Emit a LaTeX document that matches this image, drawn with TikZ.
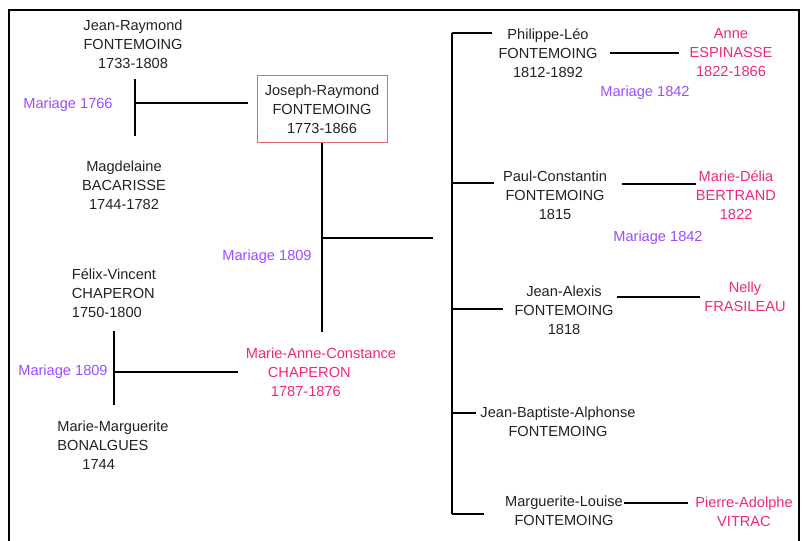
\documentclass[tikz,border=0pt]{standalone}
\usepackage{fontspec}
\setmainfont{Liberation Sans}
\usetikzlibrary{positioning}
\definecolor{texte}{HTML}{222222}
\definecolor{mariage}{HTML}{9B4DFF}
\definecolor{epouse}{HTML}{F0287A}
\definecolor{cadre}{HTML}{E8686A}

\begin{document}
\begin{tikzpicture}[x=1pt, y=-1pt,
    every node/.style={align=center, inner sep=0pt, text=texte, font=\fontsize{14.6}{19}\selectfont},
    lien/.style={line width=1.2pt},
    noce/.style={text=mariage},
    conjoint/.style={text=epouse}]

    \useasboundingbox (0,0) rectangle (809,541);

    % Frame
    \draw[line width=1.6pt] (9,541) -- (9,10) -- (799,10) -- (799,541);

    % Nodes: parents
    \node at (133,44) (jeanraymond) {Jean-Raymond\\FONTEMOING\\1733-1808};
    \node at (124,185) (magdelaine) {Magdelaine\\BACARISSE\\1744-1782};
    \node at (68,105) [noce] (noce1766) {Mariage 1766};
    \node at (322,109) (joseph) [draw=cadre, line width=1pt, minimum width=130pt, minimum height=67pt] {Joseph-Raymond\\FONTEMOING\\1773-1866};
    \node at (267,257) [noce] (noce1809) {Mariage 1809};
    \node at (114,293) [align=left] (felix) {Félix-Vincent\\CHAPERON\\1750-1800};
    \node at (113,445) [align=left] (marguerite) {Marie-Marguerite\\BONALGUES\\\hspace*{25pt}1744};
    \node at (63,372) [noce] (noce1809b) {Mariage 1809};
    \node at (321,372) [conjoint, align=left] (constance) {Marie-Anne-Constance\\\hspace*{22pt}CHAPERON\\\hspace*{25pt}1787-1876};

    % Nodes: enfants
    \node at (548,53) (philippe) {Philippe-Léo\\FONTEMOING\\1812-1892};
    \node at (731,53) [conjoint] (anne) {Anne\\ESPINASSE\\1822-1866};
    \node at (645,93) [noce] (noce1842) {Mariage 1842};
    \node at (555,195) (paul) {Paul-Constantin\\FONTEMOING\\1815};
    \node at (736,195) [conjoint] (delia) {Marie-Délia\\BERTRAND\\1822};
    \node at (658,238) [noce] (noce1842b) {Mariage 1842};
    \node at (564,310) (alexis) {Jean-Alexis\\FONTEMOING\\1818};
    \node at (745,297) [conjoint] (nelly) {Nelly\\FRASILEAU};
    \node at (558,422) (baptiste) {Jean-Baptiste-Alphonse\\FONTEMOING};
    \node at (564,511) (louise) {Marguerite-Louise\\FONTEMOING};
    \node at (744,512) [conjoint] (pierre) {Pierre-Adolphe\\VITRAC};

    % Junctions
    \coordinate (m1766haut) at (135,79);
    \coordinate (m1766bas) at (135,136);
    \coordinate (m1766) at (135,103);
    \coordinate (m1809haut) at (114,331);
    \coordinate (m1809bas) at (114,405);
    \coordinate (m1809) at (114,372);
    \coordinate (josephbas) at (322,332);
    \coordinate (fratrie) at (322,238);
    \coordinate (fratriefin) at (433,238);
    \coordinate (tronchaut) at (452,33);
    \coordinate (troncbas) at (452,514);
    \coordinate (b2) at (452,183);
    \coordinate (b3) at (452,309);
    \coordinate (b4) at (452,413);
    \coordinate (louisenoce) at (624,503);

    % Lines
    \draw[lien] (m1766haut) -- (m1766bas);
    \draw[lien, shorten >=9pt] (m1766) -- (m1766 -| joseph.west);
    \draw[lien] (m1809haut) -- (m1809bas);
    \draw[lien, shorten >=8pt] (m1809) -- (m1809 -| constance.west);
    \draw[lien] (joseph.south) -- (josephbas);
    \draw[lien] (fratrie) -- (fratriefin);
    \draw[lien] (tronchaut) -- (troncbas);
    \draw[lien, shorten >=6pt] (tronchaut) -- (tronchaut -| philippe.west);
    \draw[lien, shorten >=9pt] (b2) -- (b2 -| paul.west);
    \draw[lien, shorten >=11pt] (b3) -- (b3 -| alexis.west);
    \draw[lien, shorten >=4pt] (b4) -- (b4 -| baptiste.west);
    \draw[lien, shorten >=21pt] (troncbas) -- (troncbas -| louise.west);

    % Mariages des enfants
    \draw[lien, shorten <=12pt, shorten >=10pt] (philippe) -- (anne);
    \draw[lien, shorten <=15pt] ([yshift=11pt]paul.east) -- ([yshift=11pt]delia.west);
    \draw[lien, shorten <=3pt, shorten >=4pt] (alexis.east |- nelly) -- (nelly);
    \draw[lien, shorten >=7pt] (louisenoce) -- (louisenoce -| pierre.west);

\end{tikzpicture}
\end{document}
